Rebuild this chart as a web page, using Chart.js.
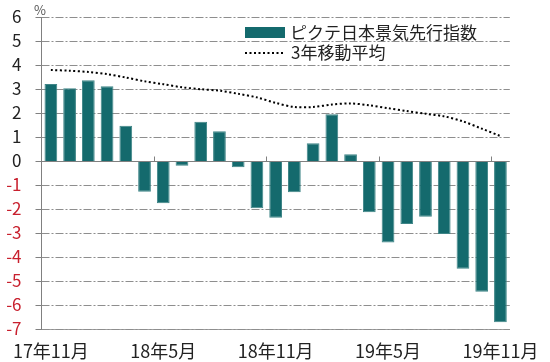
<!DOCTYPE html>
<html lang="ja">
<head>
    <meta charset="UTF-8">
    <title>ピクテ日本景気先行指数</title>
    <script src="https://cdn.jsdelivr.net/npm/chart.js"></script>
    <style>
        html, body { margin: 0; padding: 0; background: #fff; }
        #wrap { width: 550px; height: 362px; }
    </style>
</head>
<body>
    <div id="wrap"><canvas id="myChart"></canvas></div>

    <script>
        // datos
        const months = [
            '17年11月', '17年12月', '18年1月', '18年2月', '18年3月', '18年4月',
            '18年5月', '18年6月', '18年7月', '18年8月', '18年9月', '18年10月',
            '18年11月', '18年12月', '19年1月', '19年2月', '19年3月', '19年4月',
            '19年5月', '19年6月', '19年7月', '19年8月', '19年9月', '19年10月',
            '19年11月'
        ];
        const indexValues = [
            3.21, 3.03, 3.36, 3.11, 1.47, -1.28, -1.76, -0.2, 1.64, 1.24, -0.26, -1.97,
            -2.36, -1.3, 0.74, 1.95, 0.28, -2.14, -3.4, -2.63, -2.32, -3.04, -4.49, -5.45,
            -6.72
        ];
        const movingAvg = [
            3.79, 3.76, 3.71, 3.62, 3.48, 3.32, 3.2, 3.07, 2.99, 2.93, 2.8, 2.65,
            2.42, 2.25, 2.25, 2.35, 2.4, 2.32, 2.2, 2.08, 1.97, 1.86, 1.65, 1.35,
            1.04
        ];
        const yTicks = [-7, -6, -5, -4, -3, -2, -1, 0, 1, 2, 3, 4, 5, 6];

        const teal = '#146a6d';
        const fontJP = '"Noto Sans CJK JP", "Noto Sans", sans-serif';

        // rejilla, leyenda, %, línea del cero y marcas
        const extras = {
            id: 'extras',
            beforeDatasetsDraw(chart) {
                const ctx = chart.ctx;
                const area = chart.chartArea;
                const y = chart.scales.y;
                ctx.save();
                ctx.strokeStyle = '#8e8e8e';
                ctx.lineWidth = 1;
                ctx.setLineDash([8, 2, 2, 2]);
                yTicks.forEach(v => {
                    if (v === 0) return;
                    const py = Math.round(y.getPixelForValue(v)) + 0.5;
                    ctx.beginPath();
                    ctx.moveTo(area.left, py);
                    ctx.lineTo(area.right, py);
                    ctx.stroke();
                });
                ctx.setLineDash([]);
                // marcas del eje y
                ctx.strokeStyle = '#808080';
                yTicks.forEach(v => {
                    const py = Math.round(y.getPixelForValue(v)) + 0.5;
                    ctx.beginPath();
                    ctx.moveTo(area.left - 6, py);
                    ctx.lineTo(area.left, py);
                    ctx.stroke();
                });
                ctx.restore();
            },
            afterDatasetsDraw(chart) {
                const ctx = chart.ctx;
                const x = chart.scales.x;
                const y = chart.scales.y;
                const area = chart.chartArea;
                const y0 = Math.round(y.getPixelForValue(0)) + 0.5;
                ctx.save();
                ctx.strokeStyle = '#808080';
                ctx.lineWidth = 1;
                ctx.beginPath();
                ctx.moveTo(area.left, y0);
                ctx.lineTo(area.right, y0);
                for (let i = 6; i < months.length; i += 6) {
                    const px = Math.round((x.getPixelForValue(i - 1) + x.getPixelForValue(i)) / 2) + 0.5;
                    ctx.moveTo(px, y0);
                    ctx.lineTo(px, y0 - 5);
                }
                ctx.stroke();
                ctx.restore();
            },
            afterDraw(chart) {
                const ctx = chart.ctx;
                const bars = chart.data.datasets[1];
                const line = chart.data.datasets[0];
                ctx.save();
                ctx.font = '17px ' + fontJP;
                ctx.textBaseline = 'middle';
                // fila 1
                ctx.fillStyle = teal;
                ctx.fillRect(245, 27, 40, 11);
                ctx.fillStyle = '#222';
                ctx.fillText(bars.label, 290, 32.5);
                // fila 2
                ctx.strokeStyle = '#000';
                ctx.lineWidth = 2;
                ctx.setLineDash([2, 2.5]);
                ctx.beginPath();
                ctx.moveTo(245, 53);
                ctx.lineTo(284, 53);
                ctx.stroke();
                ctx.setLineDash([]);
                ctx.fillText(line.label, 291, 52.5);
                // unidad
                ctx.font = '13px ' + fontJP;
                ctx.fillStyle = '#555';
                ctx.textAlign = 'center';
                ctx.fillText('%', 40, 10);
                ctx.restore();
            }
        };

        const ctx = document.getElementById('myChart').getContext('2d');
        const myChart = new Chart(ctx, {
            data: {
                labels: months,
                datasets: [
                    {
                        type: 'line',
                        label: '3年移動平均',
                        data: movingAvg,
                        borderColor: '#000',
                        borderWidth: 2,
                        borderDash: [2, 2.5],
                        pointRadius: 0,
                        tension: 0.3,
                        fill: false,
                        order: 0
                    },
                    {
                        type: 'bar',
                        label: 'ピクテ日本景気先行指数',
                        data: indexValues,
                        backgroundColor: teal,
                        borderColor: '#3f8587',
                        borderWidth: 1,
                        categoryPercentage: 1,
                        barPercentage: 0.68,
                        order: 1
                    }
                ]
            },
            options: {
                responsive: true,
                maintainAspectRatio: false,
                animation: false,
                layout: { padding: { top: 17, right: 30, left: 0, bottom: 0 } },
                plugins: {
                    legend: { display: false },
                    tooltip: { enabled: false }
                },
                scales: {
                    x: {
                        afterFit: (s) => { s.height = 33; },
                        grid: { display: false, drawTicks: false },
                        border: { display: true, color: '#a0a0a0' },
                        ticks: {
                            autoSkip: false,
                            maxRotation: 0,
                            padding: 11,
                            color: '#222',
                            font: { size: 18, family: fontJP },
                            callback: (v, i) => (i % 6 === 0 ? months[i] : '')
                        }
                    },
                    y: {
                        min: -7,
                        max: 6,
                        afterFit: (s) => { s.width = 41.5; s.paddingTop = 0; s.paddingBottom = 0; },
                        afterBuildTicks: (s) => { s.ticks = yTicks.map(v => ({ value: v })); },
                        grid: { display: false, drawTicks: false },
                        border: { display: true, color: '#808080' },
                        ticks: {
                            autoSkip: false,
                            padding: 20,
                            font: { size: 17, family: fontJP, lineHeight: 1 },
                            color: (c) => (c.tick && c.tick.value < 0 ? '#c8202e' : '#222'),
                            callback: (v) => String(v)
                        }
                    }
                }
            },
            plugins: [extras]
        });
    </script>
</body>
</html>
